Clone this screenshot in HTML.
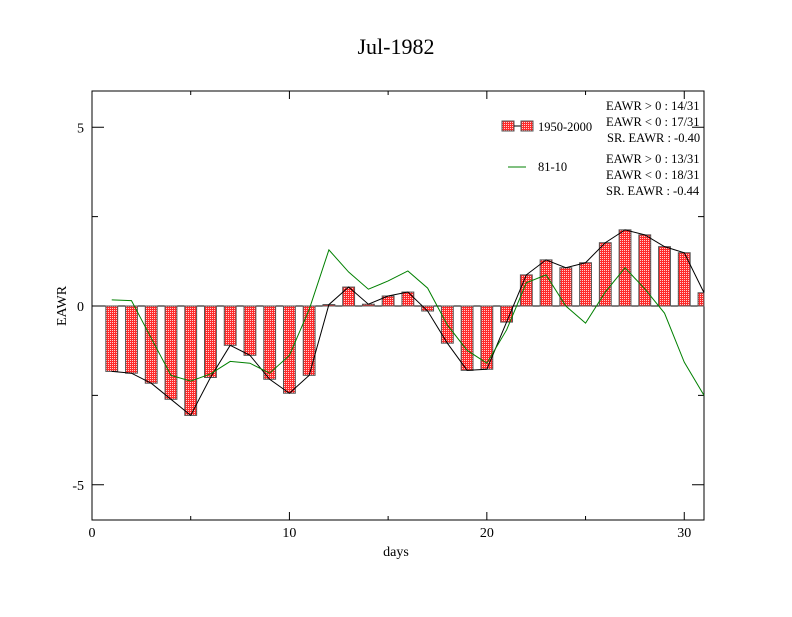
<!DOCTYPE html>
<html><head><meta charset="utf-8"><style>
body{margin:0;background:#fff;}
svg text{font-family:"Liberation Serif",serif;}
</style></head><body>
<svg width="792" height="612" xmlns="http://www.w3.org/2000/svg">
<defs>
<pattern id="hatch" width="2" height="2" patternUnits="userSpaceOnUse">
<rect width="2" height="2" fill="#ff2a2a"/>
<rect width="1" height="1" fill="#ffd0d0"/>
</pattern>
</defs>
<rect width="792" height="612" fill="#fff"/>
<text x="396" y="54" font-size="22" text-anchor="middle">Jul-1982</text>
<rect x="92" y="91" width="612" height="429" fill="none" stroke="#000"/>
<g id="axes"></g>
<g id="marks"></g>
<text x="396" y="556" font-size="14" text-anchor="middle">days</text>
<text x="66" y="306" font-size="14" text-anchor="middle" transform="rotate(-90 66 306)">EAWR</text>
<g font-size="12.5">
<rect x="502" y="121" width="12" height="10" fill="url(#hatch)" stroke="#555"/>
<line x1="514" y1="126" x2="521" y2="126" stroke="#000"/>
<rect x="521" y="121" width="12" height="10" fill="url(#hatch)" stroke="#555"/>
<text x="538" y="131">1950-2000</text>
<line x1="508" y1="167" x2="526" y2="167" stroke="#008000"/>
<text x="538" y="171">81-10</text>
<text x="606" y="110">EAWR &gt; 0 : 14/31</text>
<text x="606" y="126">EAWR &lt; 0 : 17/31</text>
<text x="607" y="142">SR. EAWR : -0.40</text>
<text x="606" y="163">EAWR &gt; 0 : 13/31</text>
<text x="606" y="179">EAWR &lt; 0 : 18/31</text>
<text x="606" y="195">SR. EAWR : -0.44</text>
</g>
</svg>
<script>
const days=[1,2,3,4,5,6,7,8,9,10,11,12,13,14,15,16,17,18,19,20,21,22,23,24,25,26,27,28,29,30,31];
const eawr=[-1.83,-1.88,-2.16,-2.61,-3.06,-2.0,-1.1,-1.38,-2.05,-2.44,-1.94,0.04,0.53,0.05,0.28,0.39,-0.14,-1.04,-1.8,-1.77,-0.45,0.87,1.29,1.07,1.21,1.77,2.13,1.99,1.66,1.49,0.37];
const clim=[0.17,0.15,-0.9,-1.94,-2.1,-1.9,-1.55,-1.6,-1.88,-1.38,-0.1,1.57,0.95,0.47,0.7,0.98,0.5,-0.53,-1.24,-1.6,-0.67,0.65,0.87,0,-0.48,0.39,1.07,0.48,-0.2,-1.57,-2.5];
const xTicks=[0,10,20,30];
const yTicks=[-5,0,5];
const xMinor=[5,15,25];
const yMinor=[-5,-2.5,2.5,5];
const NS="http://www.w3.org/2000/svg";
const X=d=>92+d*(612/31);
const Y=v=>306-v*(429/12);
function mk(tag,attrs,parent){const e=document.createElementNS(NS,tag);for(const k in attrs)e.setAttribute(k,attrs[k]);parent.appendChild(e);return e;}
const axes=document.getElementById('axes'),marks=document.getElementById('marks');
xTicks.forEach(t=>{
 const l=mk('line',{x1:X(t),x2:X(t),y1:520,y2:512,stroke:'#000'},axes);
 
 
 mk('line',{x1:X(t),x2:X(t),y1:91,y2:99,stroke:'#000'},axes);
 const tx=mk('text',{x:X(t),y:537,'font-size':14,'text-anchor':'middle'},axes);tx.textContent=t;
 
 
});
xMinor.forEach(t=>{mk('line',{x1:X(t),x2:X(t),y1:520,y2:516,stroke:'#000'},axes);mk('line',{x1:X(t),x2:X(t),y1:91,y2:95,stroke:'#000'},axes);});
yTicks.forEach(t=>{
 const l=mk('line',{x1:92,x2:104,y1:Y(t),y2:Y(t),stroke:'#000'},axes);
 
 
 mk('line',{x1:692,x2:704,y1:Y(t),y2:Y(t),stroke:'#000'},axes);
 const tx=mk('text',{x:84,y:Y(t)+5,'font-size':14,'text-anchor':'end'},axes);tx.textContent=t;
 
 
});
yMinor.forEach(t=>{if(t%5){mk('line',{x1:92,x2:98,y1:Y(t),y2:Y(t),stroke:'#000'},axes);mk('line',{x1:698,x2:704,y1:Y(t),y2:Y(t),stroke:'#000'},axes);}});
mk('line',{x1:92,x2:704,y1:Y(0),y2:Y(0),stroke:'#000'},axes);
const bw=612/31*0.6;
days.forEach((d,i)=>{
 const v=eawr[i];const y0=Math.min(Y(0),Y(v));let h=Math.abs(Y(v)-Y(0));
 const x0=X(d)-bw/2,x1=Math.min(X(d)+bw/2,704);
 const r=mk('rect',{x:x0,y:y0,width:x1-x0,height:Math.max(h,1),fill:'url(#hatch)',stroke:'#555','stroke-width':1},marks);
 
 
});
const lp=days.map((d,i)=>X(d)+','+Y(eawr[i])).join(' ');
const bl=mk('polyline',{points:lp,fill:'none',stroke:'#000','stroke-width':1},marks);


const gp=days.map((d,i)=>X(d)+','+Y(clim[i])).join(' ');
const gl=mk('polyline',{points:gp,fill:'none',stroke:'#008000','stroke-width':1},marks);


</script>
</body></html>
